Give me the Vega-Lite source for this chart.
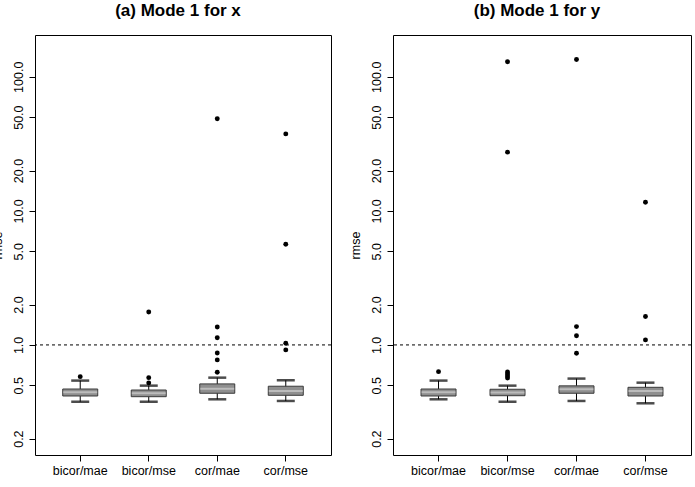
{
  "$schema": "https://vega.github.io/schema/vega-lite/v6.json",
  "padding": {"left": -10, "top": 1, "right": 4, "bottom": 0},
  "bounds": "flush",
  "spacing": 62,
  "config": {
    "view": {"stroke": "#000", "strokeWidth": 1},
    "font": "Liberation Sans",
    "axis": {"grid": false, "domain": false, "tickColor": "#000", "labelColor": "#000", "titleColor": "#000", "labelFont": "Liberation Sans", "titleFont": "Liberation Sans", "titleFontWeight": "normal", "tickSize": 6, "labelFontSize": 12.5, "titleFontSize": 12.5},
    "title": {"font": "Liberation Sans", "fontSize": 17, "fontWeight": "bold", "color": "#000", "offset": 15, "dx": -5}
  },
  "datasets": {
    "a_stats": [
      {"method": "bicor/mae", "lower": 0.377, "q1": 0.416, "median": 0.444, "q3": 0.469, "upper": 0.542},
      {"method": "bicor/mse", "lower": 0.377, "q1": 0.411, "median": 0.436, "q3": 0.461, "upper": 0.497},
      {"method": "cor/mae", "lower": 0.393, "q1": 0.436, "median": 0.472, "q3": 0.512, "upper": 0.570},
      {"method": "cor/mse", "lower": 0.382, "q1": 0.421, "median": 0.454, "q3": 0.492, "upper": 0.545}
    ],
    "a_out": [
      {"method": "bicor/mae", "value": 0.580},
      {"method": "bicor/mse", "value": 0.570},
      {"method": "bicor/mse", "value": 0.521},
      {"method": "bicor/mse", "value": 1.76},
      {"method": "cor/mae", "value": 0.626},
      {"method": "cor/mae", "value": 0.773},
      {"method": "cor/mae", "value": 0.871},
      {"method": "cor/mae", "value": 1.13},
      {"method": "cor/mae", "value": 1.36},
      {"method": "cor/mae", "value": 48.6},
      {"method": "cor/mse", "value": 0.918},
      {"method": "cor/mse", "value": 1.03},
      {"method": "cor/mse", "value": 5.64},
      {"method": "cor/mse", "value": 37.5}
    ],
    "b_stats": [
      {"method": "bicor/mae", "lower": 0.393, "q1": 0.416, "median": 0.444, "q3": 0.469, "upper": 0.542},
      {"method": "bicor/mse", "lower": 0.377, "q1": 0.418, "median": 0.441, "q3": 0.467, "upper": 0.497},
      {"method": "cor/mae", "lower": 0.382, "q1": 0.436, "median": 0.467, "q3": 0.495, "upper": 0.561},
      {"method": "cor/mse", "lower": 0.367, "q1": 0.416, "median": 0.454, "q3": 0.483, "upper": 0.523}
    ],
    "b_out": [
      {"method": "bicor/mae", "value": 0.632},
      {"method": "bicor/mse", "value": 0.567},
      {"method": "bicor/mse", "value": 0.587},
      {"method": "bicor/mse", "value": 0.608},
      {"method": "bicor/mse", "value": 0.629},
      {"method": "bicor/mse", "value": 27.4},
      {"method": "bicor/mse", "value": 129.4},
      {"method": "cor/mae", "value": 0.867},
      {"method": "cor/mae", "value": 1.17},
      {"method": "cor/mae", "value": 1.37},
      {"method": "cor/mae", "value": 134.6},
      {"method": "cor/mse", "value": 1.09},
      {"method": "cor/mse", "value": 1.63},
      {"method": "cor/mse", "value": 11.6}
    ]
  },
  "hconcat": [
    {
      "width": 296, "height": 420,
      "title": "(a) Mode 1 for x",
      "layer": [
        {"data": {"name": "a_stats"}, "mark": {"type": "rule", "color": "#000", "strokeWidth": 1},
         "encoding": {
           "x": {"field": "method", "type": "nominal", "sort": null, "scale": {"type": "band", "paddingInner": 0, "paddingOuter": 0.16}, "axis": {"title": null, "labelAngle": 0, "labelPadding": 3}},
           "y": {"field": "lower", "type": "quantitative", "scale": {"type": "log", "domain": [0.151, 205], "nice": false, "zero": false}, "axis": {"title": "rmse", "values": [0.2, 0.5, 1, 2, 5, 10, 20, 50, 100], "format": ".1f", "labelAngle": 270, "labelAlign": "center", "labelBaseline": "bottom", "labelPadding": 4, "titlePadding": 8}},
           "y2": {"field": "upper"}}},
        {"data": {"name": "a_stats"}, "mark": {"type": "bar", "size": 35, "fill": "#8f8f8f", "stroke": "#3a3a3a", "strokeWidth": 1},
         "encoding": {"x": {"field": "method", "type": "nominal", "sort": null}, "y": {"field": "q1", "type": "quantitative"}, "y2": {"field": "q3"}}},
        {"data": {"name": "a_stats"}, "mark": {"type": "tick", "size": 34, "thickness": 2, "color": "#cfcfcf"},
         "encoding": {"x": {"field": "method", "type": "nominal", "sort": null}, "y": {"field": "median", "type": "quantitative"}}},
        {"data": {"name": "a_stats"}, "mark": {"type": "tick", "size": 18, "thickness": 2.5, "color": "#000"},
         "encoding": {"x": {"field": "method", "type": "nominal", "sort": null}, "y": {"field": "lower", "type": "quantitative"}}},
        {"data": {"name": "a_stats"}, "mark": {"type": "tick", "size": 18, "thickness": 2.5, "color": "#000"},
         "encoding": {"x": {"field": "method", "type": "nominal", "sort": null}, "y": {"field": "upper", "type": "quantitative"}}},
        {"data": {"name": "a_out"}, "mark": {"type": "point", "filled": true, "color": "#000", "size": 24, "opacity": 1},
         "encoding": {"x": {"field": "method", "type": "nominal", "sort": null}, "y": {"field": "value", "type": "quantitative"}}},
        {"data": {"values": [{"ref": 1}]}, "mark": {"type": "rule", "color": "#000", "strokeWidth": 1, "strokeDash": [3, 3]},
         "encoding": {"y": {"field": "ref", "type": "quantitative"}}}
      ]
    },
    {
      "width": 298, "height": 420,
      "title": "(b) Mode 1 for y",
      "layer": [
        {"data": {"name": "b_stats"}, "mark": {"type": "rule", "color": "#000", "strokeWidth": 1},
         "encoding": {
           "x": {"field": "method", "type": "nominal", "sort": null, "scale": {"type": "band", "paddingInner": 0, "paddingOuter": 0.16}, "axis": {"title": null, "labelAngle": 0, "labelPadding": 3}},
           "y": {"field": "lower", "type": "quantitative", "scale": {"type": "log", "domain": [0.151, 205], "nice": false, "zero": false}, "axis": {"title": "rmse", "values": [0.2, 0.5, 1, 2, 5, 10, 20, 50, 100], "format": ".1f", "labelAngle": 270, "labelAlign": "center", "labelBaseline": "bottom", "labelPadding": 4, "titlePadding": 8}},
           "y2": {"field": "upper"}}},
        {"data": {"name": "b_stats"}, "mark": {"type": "bar", "size": 35, "fill": "#8f8f8f", "stroke": "#3a3a3a", "strokeWidth": 1},
         "encoding": {"x": {"field": "method", "type": "nominal", "sort": null}, "y": {"field": "q1", "type": "quantitative"}, "y2": {"field": "q3"}}},
        {"data": {"name": "b_stats"}, "mark": {"type": "tick", "size": 34, "thickness": 2, "color": "#cfcfcf"},
         "encoding": {"x": {"field": "method", "type": "nominal", "sort": null}, "y": {"field": "median", "type": "quantitative"}}},
        {"data": {"name": "b_stats"}, "mark": {"type": "tick", "size": 18, "thickness": 2.5, "color": "#000"},
         "encoding": {"x": {"field": "method", "type": "nominal", "sort": null}, "y": {"field": "lower", "type": "quantitative"}}},
        {"data": {"name": "b_stats"}, "mark": {"type": "tick", "size": 18, "thickness": 2.5, "color": "#000"},
         "encoding": {"x": {"field": "method", "type": "nominal", "sort": null}, "y": {"field": "upper", "type": "quantitative"}}},
        {"data": {"name": "b_out"}, "mark": {"type": "point", "filled": true, "color": "#000", "size": 24, "opacity": 1},
         "encoding": {"x": {"field": "method", "type": "nominal", "sort": null}, "y": {"field": "value", "type": "quantitative"}}},
        {"data": {"values": [{"ref": 1}]}, "mark": {"type": "rule", "color": "#000", "strokeWidth": 1, "strokeDash": [3, 3]},
         "encoding": {"y": {"field": "ref", "type": "quantitative"}}}
      ]
    }
  ]
}
